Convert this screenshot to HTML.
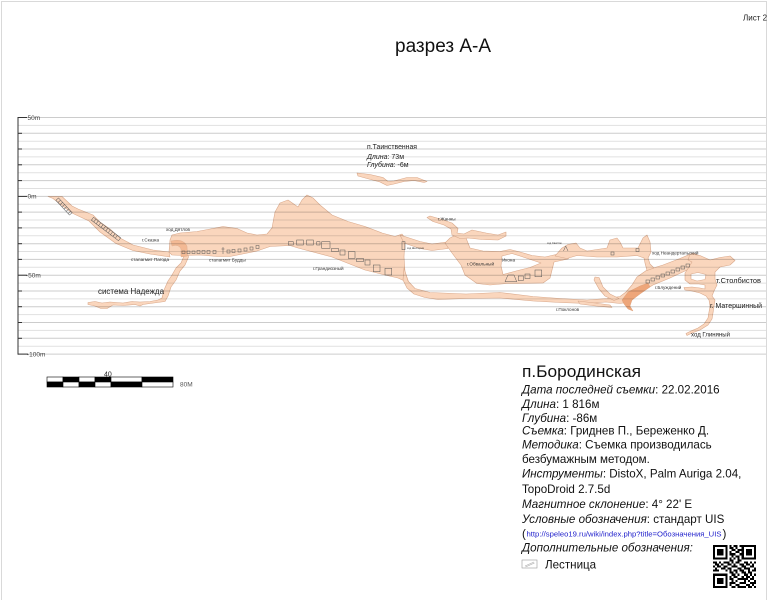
<!DOCTYPE html>
<html><head><meta charset="utf-8"><style>
html,body{margin:0;padding:0;background:#fff;}
svg{display:block;}
text{font-family:"Liberation Sans","DejaVu Sans",sans-serif;}
</style></head><body>
<svg width="775" height="600" viewBox="0 0 775 600" xmlns="http://www.w3.org/2000/svg">
<rect x="0" y="0" width="775" height="600" fill="#fff"/>
<rect x="1.5" y="1.5" width="765" height="600" fill="none" stroke="#d9d9d9" stroke-width="1"/>

<text x="743" y="20.5" font-size="8" fill="#222">Лист 2</text>
<text x="395" y="52" font-size="19" fill="#111" textLength="96" lengthAdjust="spacingAndGlyphs">разрез А-А</text>

<g fill="#fad6bd" stroke="#d9a98c" stroke-width="0.6" stroke-linejoin="round">
<path d="M48,196.5 L62,196.5 L72,206 L78,209 L93,215 L100,222 L110,229 L120,238 L133,245 L153,250 L169,252 L170,257 L150,254 L133,250.5 L116,243.5 L100,232 L89,221 L73,213.5 L64,207 L53,198.5 Z"/>
<path d="M172,241 L183,243 L188,248 L188.5,257 L185,265 L180,271 L176,280 L171,287 L168,296 L165,301.5 L150,303.5 L143,304.5 L140,306 L135,304.5 L123,305.5 L113,305 L107,308.5 L101,308.5 L95,306 L88,304.5 L88,302.5 L95,301.5 L102,303 L110,302 L123,303 L132,301.5 L140,302 L150,301.5 L158,300 L162,298 L164,290 L168,281 L172,275 L176,268 L181,263 L184,256 L183,249 L177,245.5 L171,245 Z"/>
<path d="M169,252 L170,240 L172,235 L180,233 L197,231.5 L213,228.5 L223,226.5 L237,228.5 L247,233 L257,235 L267,234 L272,228 L275,212 L280,203 L288,200 L298,207 L302,200 L307,195 L313,198 L320,205 L332,215 L348,221.5 L365,226.5 L382,233 L395,236.5 L402,234 L405,238 L404,257 L405,272 L409,283 L398,278 L385,275 L365,270 L332,257 L298,248 L290,245.5 L270,246.5 L257,251 L240,254.5 L230,256.5 L217,256.5 L200,255 L183,255.5 L172,255 Z"/>
<path d="M404,268 L408,281 L415,288.5 L430,292.5 L466,294 L500,292.5 L533,296.5 L560,298.5 L587,300 L607,298.5 L620,296.5 L626,292 L632,285 L637,277 L647,270 L663,265 L680,258.5 L693,253 L700,256 L693,264 L687,270 L670,278 L653,285 L640,293 L632,300 L626,302.5 L620,303.5 L606,302 L587,303.5 L560,302.5 L533,301 L500,298 L466,298.5 L438,299.5 L425,297.5 L414,294 L407,288 L403,280 Z"/>
<path d="M578,301 L595,303 L610,305 L612,307.5 L596,306 L580,304 Z"/>
<path d="M400,235 L420,241.5 L432,244 L447,242 L448,248.5 L432,250.5 L420,248.5 L404,243 Z"/>
<path fill-rule="evenodd" d="M445,243 L450,238 L458,234 L466,238 L470,248 L483,251 L500,251.5 L510,249.5 L520,252 L532,255.5 L545,257 L556,254.5 L570,256.5 L568,259 L554,262 L550,278 L543,283 L517,283.5 L507,283.5 L490,285 L477,283.5 L465,275 L461,265 L452,253 Z M502,256 L512,253.5 L520,256 L532,260 L541,263 L530,267.5 L516,271 L503,274.5 L501,266 Z"/>
<path d="M427,217.5 L430,216 L442,219.5 L452,223 L458,228.5 L457,233 L464,234 L472,230 L486,233 L498,235 L506,232 L506,236 L498,240 L482,239.5 L468,238 L460,238.5 L452,235 L451,229 L444,225 L433,221.5 Z"/>
<path d="M555,256 L562,248 L568,244.5 L576,243 L580,248 L587,251 L597,249.5 L607,248 L610,240 L617,238 L620,242 L623,248 L638,248 L643,238 L647,235 L650,242 L651,252 L648,258 L650,264 L654,268 L647,270.5 L645,263 L644,258 L637,255.5 L617,257 L597,257 L577,255.5 L567,258.5 Z"/>
<path d="M595,277 L599,277.5 L603,287 L610,294 L619,298.5 L614,300.5 L605,296 L599,289 L594,280 Z"/>
<path fill-rule="evenodd" d="M690,254 L700,255.5 L710,260 L720,257.5 L730,256 L735,260.5 L730,265 L720,267 L715,272 L715,279 L717,285 L714,291 L712,296 L715,300 L714,306 L713,313 L712,319 L708,325 L700,330 L692,333 L687,335.5 L686,333.5 L691,331 L698,328 L704,324 L708,318 L709,312 L710,306 L709,300 L706,296 L700,293 L692,291 L685,290 L684,287.5 L692,287 L700,288 L705,289 L705,285 L699,284 L690,284 L685,280 L685,273 L689,267 L692,262 L688,260 Z M691,274 L698,272.5 L706,274.5 L705,279.5 L697,281 L691,279 Z"/>
<path d="M357,173 L370,174.5 L383,177.5 L388,181.5 L394,181 L407,177.5 L417,177.5 L427,181.5 L424,182.5 L414,180.5 L404,181.5 L394,184 L387,185.5 L380,182 L367,178.5 L358,176 Z"/>
</g>
<path d="M171,241 Q183,238 187,246 L187.5,256 L181,257 L181,249 Q179,244 172,246 Z" fill="#f3b994" stroke="#d9a98c" stroke-width="0.4"/>
<path d="M622,300 L628,292 L640,286 L648,283 L650,287 L640,294 L632,300 L630,306 L633,311 L628,309 L624,304 Z" fill="#eea67a" stroke="#d79a75" stroke-width="0.4"/>

<g stroke="#000" stroke-opacity="0.2" stroke-width="1">
<line x1="18" y1="117.5" x2="766" y2="117.5"/>
<line x1="18" y1="133.3" x2="766" y2="133.3"/>
<line x1="18" y1="149.0" x2="766" y2="149.0"/>
<line x1="18" y1="164.8" x2="766" y2="164.8"/>
<line x1="18" y1="180.6" x2="766" y2="180.6"/>
<line x1="18" y1="196.4" x2="766" y2="196.4"/>
<line x1="18" y1="212.1" x2="766" y2="212.1"/>
<line x1="18" y1="227.9" x2="766" y2="227.9"/>
<line x1="18" y1="243.7" x2="766" y2="243.7"/>
<line x1="18" y1="259.4" x2="766" y2="259.4"/>
<line x1="18" y1="275.2" x2="766" y2="275.2"/>
<line x1="18" y1="291.0" x2="766" y2="291.0"/>
<line x1="18" y1="306.7" x2="766" y2="306.7"/>
<line x1="18" y1="322.5" x2="766" y2="322.5"/>
<line x1="18" y1="338.3" x2="766" y2="338.3"/>
<line x1="18" y1="354.1" x2="766" y2="354.1"/>
</g>
<g stroke="#000" stroke-opacity="0.12" stroke-width="1">
<line x1="18" y1="125.4" x2="766" y2="125.4"/>
<line x1="18" y1="141.2" x2="766" y2="141.2"/>
<line x1="18" y1="156.9" x2="766" y2="156.9"/>
<line x1="18" y1="172.7" x2="766" y2="172.7"/>
<line x1="18" y1="188.5" x2="766" y2="188.5"/>
<line x1="18" y1="204.2" x2="766" y2="204.2"/>
<line x1="18" y1="220.0" x2="766" y2="220.0"/>
<line x1="18" y1="235.8" x2="766" y2="235.8"/>
<line x1="18" y1="251.5" x2="766" y2="251.5"/>
<line x1="18" y1="267.3" x2="766" y2="267.3"/>
<line x1="18" y1="283.1" x2="766" y2="283.1"/>
<line x1="18" y1="298.9" x2="766" y2="298.9"/>
<line x1="18" y1="314.6" x2="766" y2="314.6"/>
<line x1="18" y1="330.4" x2="766" y2="330.4"/>
<line x1="18" y1="346.2" x2="766" y2="346.2"/>
</g>

<g stroke="#333" stroke-width="1">
<line x1="18" y1="117" x2="18" y2="354.6"/>
<line x1="18" y1="117.5" x2="27" y2="117.5"/>
<line x1="18" y1="133.3" x2="22" y2="133.3"/>
<line x1="18" y1="149.0" x2="22" y2="149.0"/>
<line x1="18" y1="164.8" x2="22" y2="164.8"/>
<line x1="18" y1="180.6" x2="22" y2="180.6"/>
<line x1="18" y1="196.4" x2="27" y2="196.4"/>
<line x1="18" y1="212.1" x2="22" y2="212.1"/>
<line x1="18" y1="227.9" x2="22" y2="227.9"/>
<line x1="18" y1="243.7" x2="22" y2="243.7"/>
<line x1="18" y1="259.4" x2="22" y2="259.4"/>
<line x1="18" y1="275.2" x2="27" y2="275.2"/>
<line x1="18" y1="291.0" x2="22" y2="291.0"/>
<line x1="18" y1="306.7" x2="22" y2="306.7"/>
<line x1="18" y1="322.5" x2="22" y2="322.5"/>
<line x1="18" y1="338.3" x2="22" y2="338.3"/>
<line x1="18" y1="354.1" x2="28" y2="354.1"/>
</g>
<g font-size="6.5" fill="#444">
<text x="27.5" y="119.8">50m</text>
<text x="27.5" y="198.7">0m</text>
<text x="26" y="277.5">-50m</text>
<text x="27" y="356.4">-100m</text>
</g>

<g fill="none" stroke="#555" stroke-width="0.5">
<g transform="translate(64,206.5) rotate(47)"><rect x="-10" y="-1.8" width="20" height="3.6"/><path d="M-7,-1.8V1.8M-4,-1.8V1.8M-1,-1.8V1.8M2,-1.8V1.8M5,-1.8V1.8M8,-1.8V1.8"/></g>
<g transform="translate(106,229) rotate(37)"><rect x="-17" y="-1.8" width="34" height="3.6"/><path d="M-14,-1.8V1.8M-11,-1.8V1.8M-8,-1.8V1.8M-5,-1.8V1.8M-2,-1.8V1.8M1,-1.8V1.8M4,-1.8V1.8M7,-1.8V1.8M10,-1.8V1.8M13,-1.8V1.8"/></g>
<rect x="182" y="251" width="3" height="2.5"/><rect x="187" y="251" width="3" height="2.5"/><rect x="192" y="251" width="3" height="2.5"/>
<rect x="197" y="250.5" width="3" height="3"/><rect x="202" y="250.5" width="3" height="3"/><rect x="207" y="250.5" width="3" height="3"/>
<rect x="213" y="250.5" width="3" height="3"/><rect x="227" y="250" width="3" height="3"/><rect x="232" y="249.5" width="3" height="3"/>
<rect x="238" y="249" width="3" height="3"/><rect x="244" y="248" width="3" height="3"/><rect x="250" y="247" width="3" height="3"/><rect x="256" y="245.5" width="3" height="3"/>
<path d="M223,247V254M221.5,249H224.5"/>
<rect x="288.3" y="241.7" width="5" height="3.3"/><rect x="296.7" y="240" width="6.6" height="5"/><rect x="306.7" y="240" width="6.6" height="5"/>
<rect x="316.7" y="241.7" width="3.3" height="3.3"/><rect x="321.7" y="241.7" width="8.3" height="6.6"/><rect x="331.7" y="248.3" width="6.6" height="3.4"/>
<rect x="340" y="250" width="5" height="5"/><rect x="348.3" y="251.7" width="6.7" height="6.6"/><rect x="356.7" y="258.3" width="6.6" height="3.4"/>
<rect x="365" y="260" width="5" height="5"/><rect x="373.3" y="265" width="6.7" height="6.7"/><rect x="385" y="268.3" width="6.7" height="6.7"/>
<rect x="402" y="241.7" width="3" height="8"/>
<path d="M505,281.7 L508,275 L514,275 L516.7,281.7 Z"/>
<rect x="518.3" y="276" width="5" height="4.5"/><rect x="525" y="274" width="5" height="4.5"/><rect x="535" y="270" width="6.7" height="6.7"/>
<rect x="646" y="280" width="3.5" height="3"/><rect x="651" y="278" width="3.5" height="3"/><rect x="656" y="276" width="3.5" height="3"/>
<rect x="661" y="274" width="3.5" height="3"/><rect x="666" y="272" width="3.5" height="3"/><rect x="671" y="270" width="3.5" height="3"/>
<rect x="676" y="268" width="3.5" height="3"/><rect x="681" y="266" width="3.5" height="3"/><rect x="686" y="264" width="3.5" height="3"/>
<rect x="611" y="252" width="3" height="3"/><rect x="636" y="248.5" width="3" height="3"/>
<path d="M563.5,251 L565.7,246 L568,251"/>
</g>

<g font-size="4.6" fill="#333">
<text x="166" y="231">ход Дятлов</text>
<text x="142" y="241.5">г.Сказка</text>
<text x="131" y="261">сталагмит Пагода</text>
<text x="209" y="261.5">сталагмит Будды</text>
<text x="313" y="270">г.Грандиозный</text>
<text x="407" y="249" font-size="2.6">ход Шестерня</text>
<text x="547" y="244" font-size="2.6">ход Свисток</text>
<text x="438" y="220.5">г.Жанны</text>
<text x="467" y="265.5">г.Обвальный</text>
<text x="502" y="261.5">Икона</text>
<text x="652" y="254.5">ход Неандертальский</text>
<text x="655" y="289">г.Блуждений</text>
<text x="556" y="311">г.Поклонов</text>
</g>
<text x="98" y="294" font-size="8" fill="#222" textLength="66" lengthAdjust="spacingAndGlyphs">система Надежда</text>
<text x="716" y="283" font-size="7.5" fill="#222" textLength="45" lengthAdjust="spacingAndGlyphs">т.Столбистов</text>
<text x="710" y="308" font-size="7.5" fill="#222" textLength="52" lengthAdjust="spacingAndGlyphs">г. Матершинный</text>
<text x="691" y="336.5" font-size="6" fill="#222" textLength="39" lengthAdjust="spacingAndGlyphs">ход Глиняный</text>

<g font-size="7" fill="#222">
<text x="367" y="149" textLength="50" lengthAdjust="spacingAndGlyphs">п.Таинственная</text>
<text x="367" y="159"><tspan font-style="italic">Длина</tspan>: 73м</text>
<text x="367" y="167"><tspan font-style="italic">Глубина</tspan>: -6м</text>
</g>

<g stroke="#000" stroke-width="0.6">
<rect x="47" y="377" width="16" height="5" fill="#fff"/><rect x="63" y="377" width="16" height="5" fill="#000"/>
<rect x="79" y="377" width="16" height="5" fill="#fff"/><rect x="95" y="377" width="16" height="5" fill="#000"/>
<rect x="111" y="377" width="31" height="5" fill="#fff"/><rect x="142" y="377" width="31" height="5" fill="#000"/>
<rect x="47" y="382" width="16" height="5" fill="#000"/><rect x="63" y="382" width="16" height="5" fill="#fff"/>
<rect x="79" y="382" width="16" height="5" fill="#000"/><rect x="95" y="382" width="16" height="5" fill="#fff"/>
<rect x="111" y="382" width="31" height="5" fill="#000"/><rect x="142" y="382" width="31" height="5" fill="#fff"/>
</g>
<text x="104" y="376.5" font-size="7" fill="#222">40</text>
<text x="180" y="386.5" font-size="6.5" fill="#555">80M</text>

<g fill="#111" font-size="11.6">
<text x="522" y="377" font-size="17" textLength="119" lengthAdjust="spacingAndGlyphs">п.Бородинская</text>
<text x="522" y="393.5"><tspan font-style="italic">Дата последней съемки</tspan>: 22.02.2016</text>
<text x="522" y="408"><tspan font-style="italic">Длина</tspan>: 1 816м</text>
<text x="522" y="422"><tspan font-style="italic">Глубина</tspan>: -86м</text>
<text x="522" y="434.5"><tspan font-style="italic">Съемка</tspan>: Гриднев П., Береженко Д.</text>
<text x="522" y="448.5"><tspan font-style="italic">Методика</tspan>: Съемка производилась</text>
<text x="522" y="463">безбумажным методом.</text>
<text x="522" y="477.5"><tspan font-style="italic">Инструменты</tspan>: DistoX, Palm Auriga 2.04,</text>
<text x="522" y="493">TopoDroid 2.7.5d</text>
<text x="522" y="508"><tspan font-style="italic">Магнитное склонение</tspan>: 4° 22' E</text>
<text x="522" y="523"><tspan font-style="italic">Условные обозначения</tspan>: стандарт UIS</text>
<text x="522" y="537.5">(</text>
<text x="526.5" y="536.5" font-size="7.5" fill="#2222cc" textLength="195" lengthAdjust="spacingAndGlyphs">http://speleo19.ru/wiki/index.php?title=Обозначения_UIS</text>
<text x="722.5" y="537.5">)</text>
<text x="522" y="551.5" font-style="italic">Дополнительные обозначения:</text>
<text x="545" y="568.5">Лестница</text>
</g>
<g fill="none" stroke="#999" stroke-width="0.6">
<rect x="522" y="560" width="15" height="8"/>
<path d="M525,566 L534,562 M525.5,567 L534.5,563" stroke="#aaa"/>
</g>

<g transform="translate(713,545) scale(2.05)" fill="#000" shape-rendering="crispEdges">
<rect x="0" y="0" width="7" height="1"/><rect x="8" y="0" width="1" height="1"/><rect x="10" y="0" width="2" height="1"/><rect x="13" y="0" width="8" height="1"/>
<rect x="0" y="1" width="1" height="1"/><rect x="6" y="1" width="1" height="1"/><rect x="8" y="1" width="2" height="1"/><rect x="11" y="1" width="1" height="1"/><rect x="14" y="1" width="1" height="1"/><rect x="20" y="1" width="1" height="1"/>
<rect x="0" y="2" width="1" height="1"/><rect x="2" y="2" width="3" height="1"/><rect x="6" y="2" width="1" height="1"/><rect x="9" y="2" width="2" height="1"/><rect x="12" y="2" width="3" height="1"/><rect x="16" y="2" width="3" height="1"/><rect x="20" y="2" width="1" height="1"/>
<rect x="0" y="3" width="1" height="1"/><rect x="2" y="3" width="3" height="1"/><rect x="6" y="3" width="1" height="1"/><rect x="8" y="3" width="1" height="1"/><rect x="11" y="3" width="2" height="1"/><rect x="14" y="3" width="1" height="1"/><rect x="16" y="3" width="3" height="1"/><rect x="20" y="3" width="1" height="1"/>
<rect x="0" y="4" width="1" height="1"/><rect x="2" y="4" width="3" height="1"/><rect x="6" y="4" width="1" height="1"/><rect x="8" y="4" width="3" height="1"/><rect x="13" y="4" width="2" height="1"/><rect x="16" y="4" width="3" height="1"/><rect x="20" y="4" width="1" height="1"/>
<rect x="0" y="5" width="1" height="1"/><rect x="6" y="5" width="1" height="1"/><rect x="9" y="5" width="1" height="1"/><rect x="11" y="5" width="2" height="1"/><rect x="14" y="5" width="1" height="1"/><rect x="20" y="5" width="1" height="1"/>
<rect x="0" y="6" width="7" height="1"/><rect x="8" y="6" width="1" height="1"/><rect x="10" y="6" width="1" height="1"/><rect x="12" y="6" width="1" height="1"/><rect x="14" y="6" width="7" height="1"/>
<rect x="8" y="7" width="2" height="1"/><rect x="12" y="7" width="2" height="1"/>
<rect x="0" y="8" width="2" height="1"/><rect x="3" y="8" width="1" height="1"/><rect x="5" y="8" width="3" height="1"/><rect x="9" y="8" width="1" height="1"/><rect x="11" y="8" width="2" height="1"/><rect x="15" y="8" width="2" height="1"/><rect x="18" y="8" width="1" height="1"/><rect x="20" y="8" width="1" height="1"/>
<rect x="1" y="9" width="2" height="1"/><rect x="4" y="9" width="1" height="1"/><rect x="7" y="9" width="2" height="1"/><rect x="10" y="9" width="1" height="1"/><rect x="13" y="9" width="2" height="1"/><rect x="16" y="9" width="2" height="1"/><rect x="19" y="9" width="1" height="1"/>
<rect x="0" y="10" width="1" height="1"/><rect x="2" y="10" width="2" height="1"/><rect x="5" y="10" width="2" height="1"/><rect x="9" y="10" width="3" height="1"/><rect x="14" y="10" width="2" height="1"/><rect x="18" y="10" width="2" height="1"/>
<rect x="1" y="11" width="1" height="1"/><rect x="4" y="11" width="2" height="1"/><rect x="7" y="11" width="2" height="1"/><rect x="12" y="11" width="2" height="1"/><rect x="15" y="11" width="3" height="1"/><rect x="20" y="11" width="1" height="1"/>
<rect x="0" y="12" width="3" height="1"/><rect x="6" y="12" width="1" height="1"/><rect x="8" y="12" width="1" height="1"/><rect x="10" y="12" width="2" height="1"/><rect x="13" y="12" width="2" height="1"/><rect x="17" y="12" width="1" height="1"/><rect x="19" y="12" width="2" height="1"/>
<rect x="8" y="13" width="2" height="1"/><rect x="11" y="13" width="1" height="1"/><rect x="14" y="13" width="2" height="1"/><rect x="17" y="13" width="2" height="1"/>
<rect x="0" y="14" width="7" height="1"/><rect x="9" y="14" width="2" height="1"/><rect x="12" y="14" width="1" height="1"/><rect x="15" y="14" width="2" height="1"/><rect x="18" y="14" width="1" height="1"/><rect x="20" y="14" width="1" height="1"/>
<rect x="0" y="15" width="1" height="1"/><rect x="6" y="15" width="1" height="1"/><rect x="8" y="15" width="1" height="1"/><rect x="10" y="15" width="2" height="1"/><rect x="14" y="15" width="1" height="1"/><rect x="16" y="15" width="2" height="1"/><rect x="19" y="15" width="1" height="1"/>
<rect x="0" y="16" width="1" height="1"/><rect x="2" y="16" width="3" height="1"/><rect x="6" y="16" width="1" height="1"/><rect x="8" y="16" width="2" height="1"/><rect x="12" y="16" width="5" height="1"/><rect x="18" y="16" width="2" height="1"/>
<rect x="0" y="17" width="1" height="1"/><rect x="2" y="17" width="3" height="1"/><rect x="6" y="17" width="1" height="1"/><rect x="9" y="17" width="1" height="1"/><rect x="11" y="17" width="1" height="1"/><rect x="15" y="17" width="1" height="1"/><rect x="17" y="17" width="1" height="1"/><rect x="20" y="17" width="1" height="1"/>
<rect x="0" y="18" width="1" height="1"/><rect x="2" y="18" width="3" height="1"/><rect x="6" y="18" width="1" height="1"/><rect x="8" y="18" width="3" height="1"/><rect x="13" y="18" width="3" height="1"/><rect x="18" y="18" width="3" height="1"/>
<rect x="0" y="19" width="1" height="1"/><rect x="6" y="19" width="1" height="1"/><rect x="8" y="19" width="1" height="1"/><rect x="11" y="19" width="2" height="1"/><rect x="16" y="19" width="2" height="1"/><rect x="19" y="19" width="1" height="1"/>
<rect x="0" y="20" width="7" height="1"/><rect x="9" y="20" width="2" height="1"/><rect x="12" y="20" width="4" height="1"/><rect x="17" y="20" width="2" height="1"/><rect x="20" y="20" width="1" height="1"/>
</g>
</svg>
</body></html>
